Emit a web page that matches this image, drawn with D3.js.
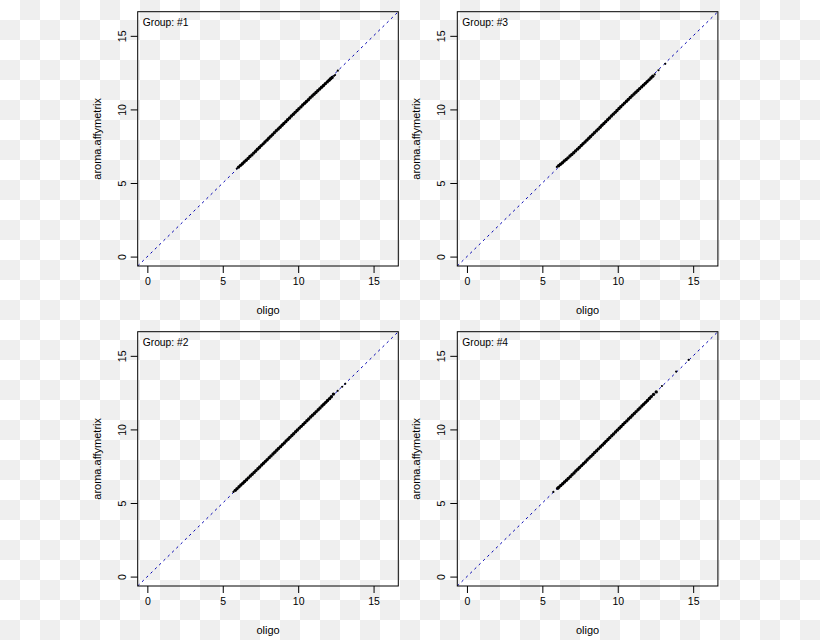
<!DOCTYPE html>
<html>
<head>
<meta charset="utf-8">
<script src="https://cdn.jsdelivr.net/npm/d3@7"></script>
<style>
  html, body { margin: 0; padding: 0; background: #fff; }
  svg { display: block; }
  text { font-family: "Liberation Sans", Arial, sans-serif; fill: #000; }
</style>
</head>
<body>
<svg id="chart" width="820" height="640"></svg>
<script>
// ---- data ----
const groups = ["Group: #1", "Group: #3", "Group: #2", "Group: #4"];
const xLabel = "oligo";
const yLabel = "aroma.affymetrix";
const tickValues = [0, 5, 10, 15];
const domain = [0, 16];

const oligo1 = [5.93,6.05,6.18,6.30,6.42,6.55,6.68,6.80,6.93,7.05,7.18,7.30,7.43,7.55,7.68,7.80,7.93,8.05,8.18,8.30,8.42,8.55,8.68,8.80,8.93,9.05,9.18,9.30,9.43,9.55,9.68,9.80,9.93,10.05,10.18,10.30,10.43,10.55,10.68,10.80,10.93,11.05,11.18,11.30,11.43,11.55,11.68,11.80,11.93,12.05,12.15,12.25,12.38,12.45,12.63];
const aroma1 = [5.98,6.08,6.20,6.31,6.43,6.55,6.67,6.80,6.91,7.03,7.16,7.29,7.41,7.54,7.66,7.79,7.91,8.04,8.17,8.29,8.42,8.55,8.67,8.79,8.92,9.04,9.17,9.30,9.42,9.55,9.67,9.80,9.93,10.05,10.17,10.30,10.42,10.54,10.66,10.79,10.91,11.03,11.15,11.27,11.39,11.51,11.63,11.75,11.87,11.98,12.08,12.17,12.28,12.34,12.63];

const oligo3 = [5.96,6.08,6.20,6.33,6.45,6.58,6.70,6.83,6.95,7.08,7.20,7.33,7.45,7.58,7.70,7.83,7.95,8.08,8.20,8.33,8.45,8.58,8.70,8.83,8.95,9.08,9.20,9.33,9.45,9.58,9.70,9.83,9.95,10.08,10.20,10.33,10.45,10.58,10.70,10.83,10.95,11.08,11.20,11.33,11.45,11.58,11.70,11.83,11.95,12.08,12.20,12.32,12.45,12.70,13.15];
const aroma3 = [6.09,6.17,6.27,6.38,6.49,6.60,6.71,6.83,6.94,7.06,7.18,7.30,7.42,7.55,7.67,7.79,7.91,8.04,8.16,8.29,8.41,8.54,8.66,8.79,8.92,9.04,9.17,9.30,9.42,9.55,9.68,9.80,9.93,10.06,10.18,10.31,10.43,10.56,10.68,10.81,10.93,11.05,11.17,11.29,11.41,11.53,11.65,11.77,11.89,12.01,12.13,12.25,12.38,12.66,13.10];

const oligo2 = [5.71,5.83,5.95,6.08,6.20,6.33,6.45,6.58,6.70,6.83,6.95,7.08,7.20,7.33,7.45,7.58,7.70,7.83,7.95,8.08,8.20,8.33,8.45,8.58,8.70,8.83,8.95,9.08,9.20,9.33,9.45,9.58,9.70,9.83,9.95,10.08,10.20,10.33,10.45,10.58,10.70,10.83,10.95,11.08,11.20,11.33,11.45,11.58,11.70,11.83,11.95,12.08,12.20,12.34,12.62,12.92,13.12];
const aroma2 = [5.75,5.86,5.98,6.10,6.22,6.34,6.46,6.58,6.71,6.83,6.95,7.08,7.20,7.33,7.45,7.58,7.70,7.83,7.95,8.08,8.20,8.33,8.45,8.58,8.71,8.83,8.96,9.08,9.21,9.33,9.46,9.59,9.71,9.84,9.96,10.09,10.21,10.34,10.46,10.59,10.71,10.84,10.96,11.09,11.21,11.34,11.46,11.59,11.71,11.84,11.96,12.09,12.22,12.40,12.62,12.90,13.10];

const oligo4 = [5.73,6.02,6.10,6.22,6.35,6.47,6.60,6.72,6.85,6.97,7.10,7.22,7.35,7.47,7.60,7.72,7.85,7.97,8.10,8.22,8.35,8.47,8.60,8.72,8.85,8.97,9.10,9.22,9.35,9.47,9.60,9.72,9.85,9.97,10.10,10.22,10.35,10.47,10.60,10.72,10.85,10.97,11.10,11.22,11.35,11.47,11.60,11.72,11.85,11.97,12.10,12.22,12.37,12.55,12.93,13.87,14.70];
const aroma4 = [5.75,6.00,6.08,6.19,6.31,6.43,6.55,6.67,6.79,6.92,7.04,7.17,7.29,7.42,7.54,7.67,7.79,7.92,8.05,8.17,8.30,8.43,8.55,8.68,8.81,8.93,9.06,9.19,9.31,9.44,9.57,9.69,9.82,9.95,10.08,10.20,10.33,10.46,10.58,10.71,10.83,10.96,11.09,11.21,11.34,11.46,11.59,11.71,11.84,11.97,12.10,12.23,12.38,12.55,12.95,13.93,14.72];

const panelData = [[oligo1, aroma1], [oligo3, aroma3], [oligo2, aroma2], [oligo4, aroma4]];

// ---- drawing ----
const W = 820, H = 640;
const svg = d3.select("#chart");

// checkerboard (transparent background look)
const sq = 20;
const cells = d3.cross(d3.range(Math.ceil(W / sq)), d3.range(Math.ceil(H / sq)));
svg.append("g").selectAll("rect").data(cells).join("rect")
  .attr("x", d => d[0] * sq).attr("y", d => d[1] * sq)
  .attr("width", sq).attr("height", sq)
  .attr("fill", d => (d[0] + d[1]) % 2 ? "#efefef" : "#ffffff");

const pw = 260.6, ph = 254.3;
const origins = [[137.7, 11.7], [457.3, 11.7], [137.7, 331.7], [457.3, 331.7]];
const ext = (domain[1] - domain[0]) * 0.04;

origins.forEach((o, i) => {
  const [ox, oy] = o;
  const x = d3.scaleLinear().domain([domain[0] - ext, domain[1] + ext]).range([ox, ox + pw]);
  const y = d3.scaleLinear().domain([domain[0] - ext, domain[1] + ext]).range([oy + ph, oy]);
  const g = svg.append("g");

  const clipId = "clip" + i;
  g.append("clipPath").attr("id", clipId).append("rect")
    .attr("x", ox).attr("y", oy).attr("width", pw).attr("height", ph);

  // diagonal reference line
  g.append("line")
    .attr("clip-path", `url(#${clipId})`)
    .attr("x1", x(domain[0] - ext)).attr("y1", y(domain[0] - ext))
    .attr("x2", x(domain[1] + ext)).attr("y2", y(domain[1] + ext))
    .attr("stroke", "#0000b0").attr("stroke-width", 1)
    .attr("stroke-dasharray", "2.5,3.5");

  // points
  const [xs, ys] = panelData[i];
  const pts = xs.map((v, k) => [v, ys[k]]);
  g.append("g").attr("clip-path", `url(#${clipId})`)
    .selectAll("circle").data(pts).join("circle")
    .attr("cx", d => x(d[0])).attr("cy", d => y(d[1]))
    .attr("r", (d, k) => (k === 0 || k >= pts.length - 3) ? 1.1 : 1.7)
    .attr("fill", "#000");

  // box
  g.append("rect").attr("x", ox).attr("y", oy).attr("width", pw).attr("height", ph)
    .attr("fill", "none").attr("stroke", "#000").attr("stroke-width", 1);

  // x axis
  const xa = g.append("g").attr("transform", `translate(0,${oy + ph})`)
    .call(d3.axisBottom(x).tickValues(tickValues).tickSize(7).tickPadding(5).tickFormat(d3.format("d")));
  xa.select(".domain").remove();
  xa.selectAll("text").attr("font-size", 10.5).attr("font-family", "Liberation Sans, Arial, sans-serif").attr("fill", "#000");
  xa.selectAll("line").attr("stroke", "#000");

  // y axis
  const ya = g.append("g").attr("transform", `translate(${ox},0)`)
    .call(d3.axisLeft(y).tickValues(tickValues).tickSize(7).tickFormat(d3.format("d")));
  ya.select(".domain").remove();
  ya.selectAll("line").attr("stroke", "#000");
  ya.selectAll("text")
    .attr("font-size", 10.5).attr("font-family", "Liberation Sans, Arial, sans-serif").attr("fill", "#000")
    .attr("x", null).attr("dy", null)
    .attr("text-anchor", "middle")
    .attr("transform", "translate(-12,0) rotate(-90)");

  // axis titles
  g.append("text").attr("x", ox + pw / 2).attr("y", oy + ph + 48)
    .attr("text-anchor", "middle").attr("font-size", 11).text(xLabel);
  g.append("text")
    .attr("transform", `translate(${ox - 37},${oy + ph / 2}) rotate(-90)`)
    .attr("text-anchor", "middle").attr("font-size", 11).text(yLabel);

  // group label
  g.append("text").attr("x", ox + 5).attr("y", oy + 14.5)
    .attr("font-size", 10.3).text(groups[i]);
});
</script>
</body>
</html>
